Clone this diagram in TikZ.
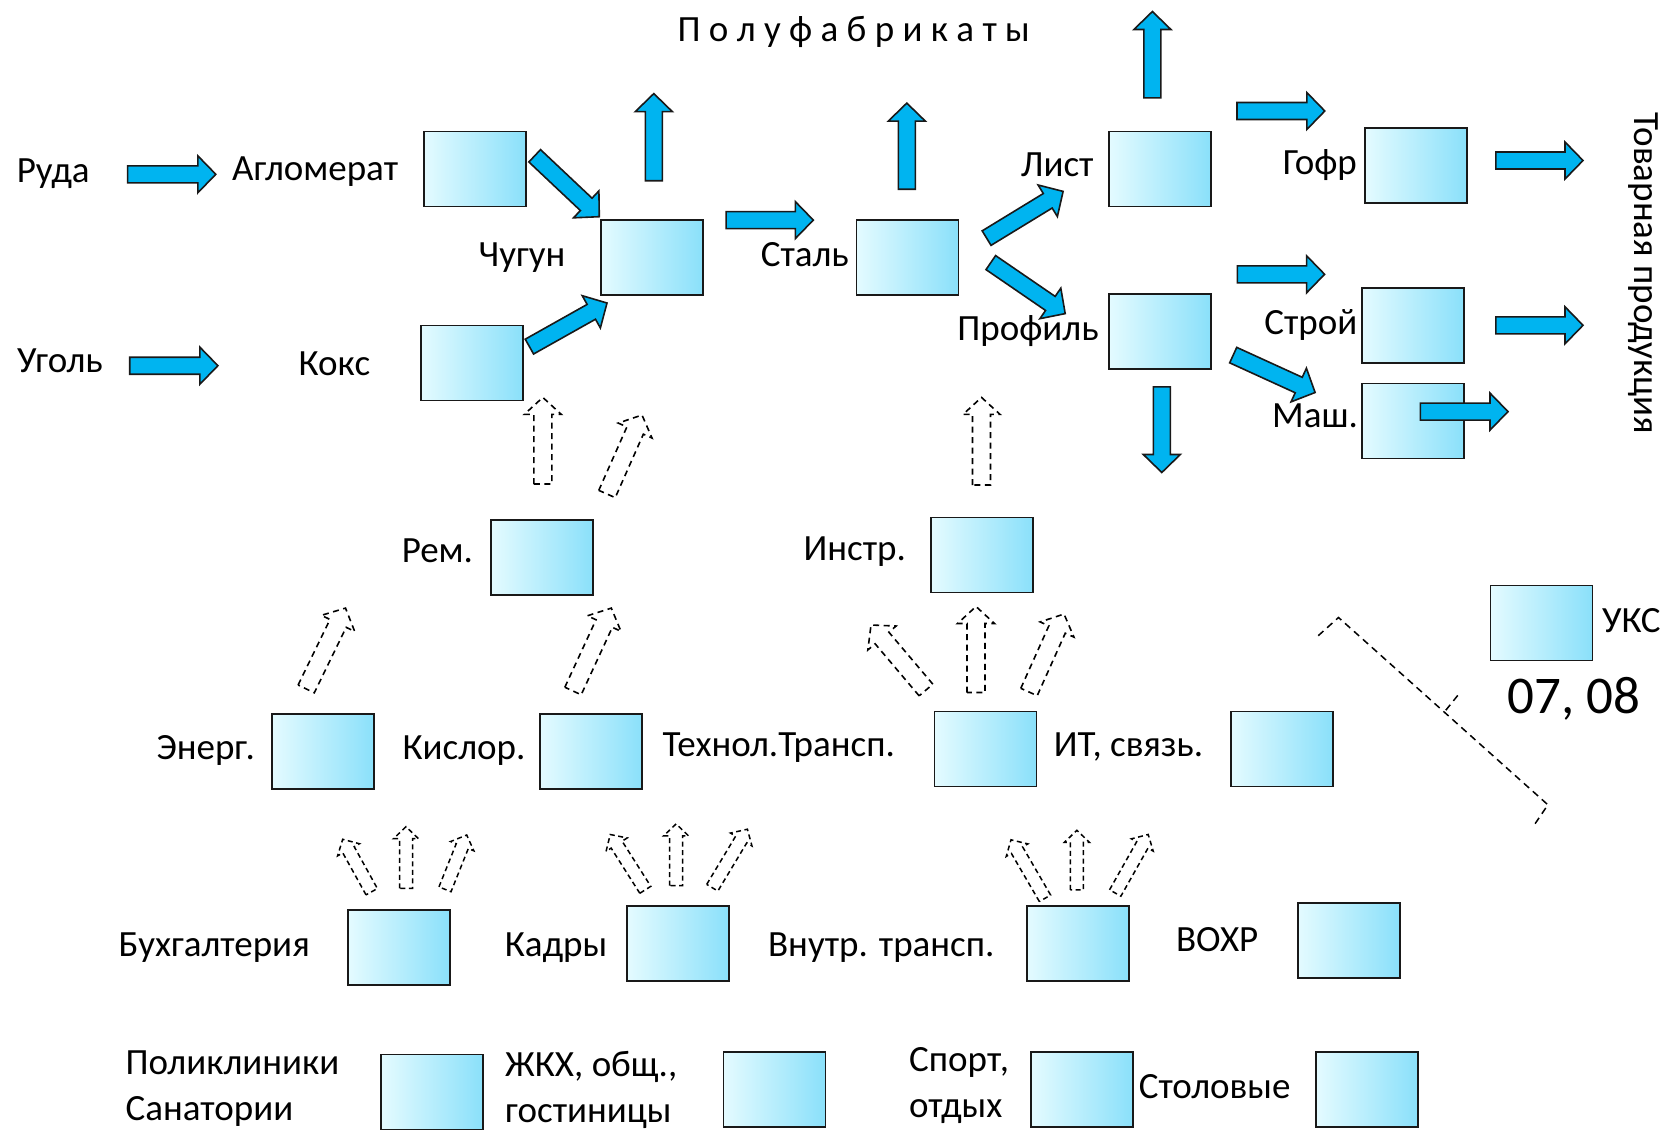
\documentclass[tikz,border=0pt]{standalone}
\usepackage{fontspec}
\setmainfont{Carlito}
\usepackage{tikz}
\usetikzlibrary{calc}
\definecolor{arrblue}{RGB}{0,180,240}
\definecolor{boxlight}{RGB}{228,251,255}
\definecolor{boxdark}{RGB}{138,224,250}
\definecolor{boxline}{RGB}{25,25,25}

\tikzset{
  unit/.style={draw=boxline, line width=1.8pt, left color=boxlight, right color=boxdark,
    minimum width=102pt, minimum height=75pt, inner sep=0pt},
  lbl/.style={font=\fontsize{37pt}{46pt}\selectfont, inner sep=0pt, text height=24pt, text depth=0pt},
  lbltwo/.style={font=\fontsize{37pt}{46pt}\selectfont, inner sep=0pt, align=left, anchor=north west},
  fatarr/.style={draw=black!90, line width=1.6pt, fill=arrblue, line join=miter,
    /utils/exec={\def\shaftw{8.5pt}\def\headw{18.5pt}\def\headl{18pt}}},
  bigdash/.style={draw=black, line width=1.6pt, dash pattern=on 6pt off 4.5pt, fill=white,
    /utils/exec={\def\shaftw{9pt}\def\headw{18.5pt}\def\headl{17pt}}},
  smalldash/.style={draw=black, line width=1.5pt, dash pattern=on 5pt off 3.5pt, fill=white,
    /utils/exec={\def\shaftw{6.5pt}\def\headw{12.5pt}\def\headl{12pt}}},
  brace/.style={draw=black, line width=1.5pt, dash pattern=on 7pt off 5pt}
}
% block arrow: style, tail, tip
\newcommand{\blockarrow}[3]{%
  \draw[#1] ($(#2)!\shaftw!90:(#3)$) -- ($($(#3)!\headl!(#2)$)!\shaftw!90:(#3)$)
    -- ($($(#3)!\headl!(#2)$)!\headw!90:(#3)$) -- (#3)
    -- ($($(#3)!\headl!(#2)$)!\headw!-90:(#3)$) -- ($($(#3)!\headl!(#2)$)!\shaftw!-90:(#3)$)
    -- ($(#2)!\shaftw!-90:(#3)$) -- cycle;}

\begin{document}
\begin{tikzpicture}[x=1pt,y=-1pt]
    \useasboundingbox (0,0) rectangle (1667,1130);

    % headings
    \node[lbl] (polufab) at (853.7,29.8) {П о л у ф а б р и к а т ы};
    \node[lbl, rotate=-90] (tovar) at (1646.5,273.7) {Товарная продукция};

    % main line
    \node[unit] (agl) at (474.7,169.0) {};
    \node[unit] (chug) at (651.7,257.3) {};
    \node[unit] (koks) at (472.0,363.0) {};
    \node[unit] (stal) at (907.4,257.3) {};
    \node[unit] (list) at (1159.8,169.0) {};
    \node[unit] (prof) at (1159.8,331.7) {};
    \node[unit] (gofr) at (1416.0,165.3) {};
    \node[unit] (stroy) at (1412.9,325.3) {};
    \node[unit] (mash) at (1412.9,421.0) {};

    \node[lbl] (ruda) at (53.2,170.1) {Руда};
    \node[lbl] (agltxt) at (315.2,168.0) {Агломерат};
    \node[lbl] (chugtxt) at (522.0,254.1) {Чугун};
    \node[lbl] (ugol) at (60.0,360.4) {Уголь};
    \node[lbl] (kokstxt) at (334.4,363.6) {Кокс};
    \node[lbl] (staltxt) at (804.8,254.1) {Сталь};
    \node[lbl] (listtxt) at (1057.2,164.8) {Лист};
    \node[lbl] (proftxt) at (1028.0,328.5) {Профиль};
    \node[lbl] (gofrtxt) at (1319.8,162.7) {Гофр};
    \node[lbl] (stroytxt) at (1310.8,322.1) {Строй};
    \node[lbl] (mashtxt) at (1315.0,415.7) {Маш.};

    % service units
    \node[unit] (rem) at (542.2,557.1) {};
    \node[unit] (instr) at (982.3,555.0) {};
    \node[unit] (uks) at (1541.5,623.0) {};
    \node[unit] (energ) at (323.2,751.6) {};
    \node[unit] (kislor) at (591.1,751.6) {};
    \node[unit] (tehn) at (985.5,749.0) {};
    \node[unit] (itsv) at (1281.6,749.0) {};
    \node[unit] (buh) at (399.2,947.2) {};
    \node[unit] (kadry) at (678.3,943.5) {};
    \node[unit] (vnutr) at (1078.0,943.5) {};
    \node[unit] (vohr) at (1348.6,940.8) {};
    \node[unit] (polik) at (432.2,1092.0) {};
    \node[unit] (zhkh) at (774.5,1089.7) {};
    \node[unit] (sport) at (1082.2,1089.7) {};
    \node[unit] (stol) at (1367.1,1089.7) {};

    \node[lbl] (remtxt) at (437.4,550.7) {Рем.};
    \node[lbl] (instrtxt) at (854.7,548.6) {Инстр.};
    \node[lbl] (ukstxt) at (1631.3,620.9) {УКС};
    \node[lbl, font=\fontsize{53pt}{60pt}\selectfont, text height=33.5pt] (ukscode) at (1574.0,696.3) {07, 08};
    \node[lbl] (energtxt) at (205.7,747.4) {Энерг.};
    \node[lbl] (kislortxt) at (464.0,747.4) {Кислор.};
    \node[lbl] (tehntxt) at (778.7,744.2) {Технол.Трансп.};
    \node[lbl] (itsvtxt) at (1128.5,744.2) {ИТ, связь.};
    \node[lbl] (buhtxt) at (214.2,944.0) {Бухгалтерия};
    \node[lbl] (kadrytxt) at (556.0,944.0) {Кадры};
    \node[lbl] (vnutrtxt) at (881.3,944.0) {Внутр. трансп.};
    \node[lbl] (vohrtxt) at (1217.2,939.8) {ВОХР};
    \node[lbltwo] (poliktxt) at (125.4,1051.0) {Поликлиники\\Санатории};
    \node[lbltwo] (zhkhtxt) at (505.0,1051.0) {ЖКХ, общ.,\\гостиницы};
    \node[lbltwo] (sporttxt) at (909.0,1047.0) {Спорт,\\отдых};
    \node[lbl] (stoltxt) at (1214.6,1086.5) {Столовые};

    % product flow
    \blockarrow{fatarr}{127.6,174.3}{215.8,174.3}
    \blockarrow{fatarr}{129.7,365.7}{217.9,365.7}
    \blockarrow{fatarr}{534.7,155.8}{599.3,216.7}
    \blockarrow{fatarr}{529.4,346.6}{607.0,303.0}
    \blockarrow{fatarr}{653.8,180.7}{653.8,93.6}
    \blockarrow{fatarr}{726.1,220.1}{813.3,220.1}
    \blockarrow{fatarr}{906.8,189.2}{906.8,103.1}
    \blockarrow{fatarr}{986.6,238.1}{1063.1,191.4}
    \blockarrow{fatarr}{990.8,262.6}{1065.2,313.6}
    \blockarrow{fatarr}{1152.4,97.8}{1152.4,11.5}
    \blockarrow{fatarr}{1237.0,111.0}{1324.8,111.0}
    \blockarrow{fatarr}{1237.4,274.3}{1324.6,274.3}
    \blockarrow{fatarr}{1233.2,355.1}{1315.1,392.5}
    \blockarrow{fatarr}{1161.8,386.8}{1161.8,472.5}
    \blockarrow{fatarr}{1495.8,160.5}{1583.0,160.5}
    \blockarrow{fatarr}{1495.8,325.3}{1583.0,325.3}
    \blockarrow{fatarr}{1420.3,411.6}{1508.0,411.6}

    % services
    \blockarrow{bigdash}{542.8,484.0}{542.8,397.4}
    \blockarrow{bigdash}{607.0,494.0}{642.0,415.0}
    \blockarrow{bigdash}{981.5,485.0}{981.5,397.4}
    \blockarrow{bigdash}{306.2,688.9}{345.5,608.1}
    \blockarrow{bigdash}{573.0,691.0}{611.3,608.1}
    \blockarrow{bigdash}{926.0,690.0}{871.0,625.0}
    \blockarrow{bigdash}{976.0,692.5}{976.0,606.5}
    \blockarrow{bigdash}{1029.0,692.0}{1064.0,614.0}

    \blockarrow{smalldash}{371.7,891.7}{342.7,839.3}
    \blockarrow{smalldash}{406.0,888.3}{406.0,826.7}
    \blockarrow{smalldash}{445.0,889.3}{466.7,835.0}
    \blockarrow{smalldash}{645.3,889.8}{610.2,834.5}
    \blockarrow{smalldash}{676.1,885.6}{676.1,823.9}
    \blockarrow{smalldash}{712.3,887.7}{747.4,829.2}
    \blockarrow{smalldash}{1045.0,898.3}{1011.0,839.8}
    \blockarrow{smalldash}{1076.9,889.8}{1076.9,830.3}
    \blockarrow{smalldash}{1115.2,893.0}{1148.2,834.5}

    % bracket
    \draw[brace] (1318.2,635.7) -- (1338.5,617.5) -- (1547.9,804.8) -- (1532.5,827.5);
    \draw[brace] (1445.8,710.2) -- (1459.6,693.1);
\end{tikzpicture}
\end{document}
